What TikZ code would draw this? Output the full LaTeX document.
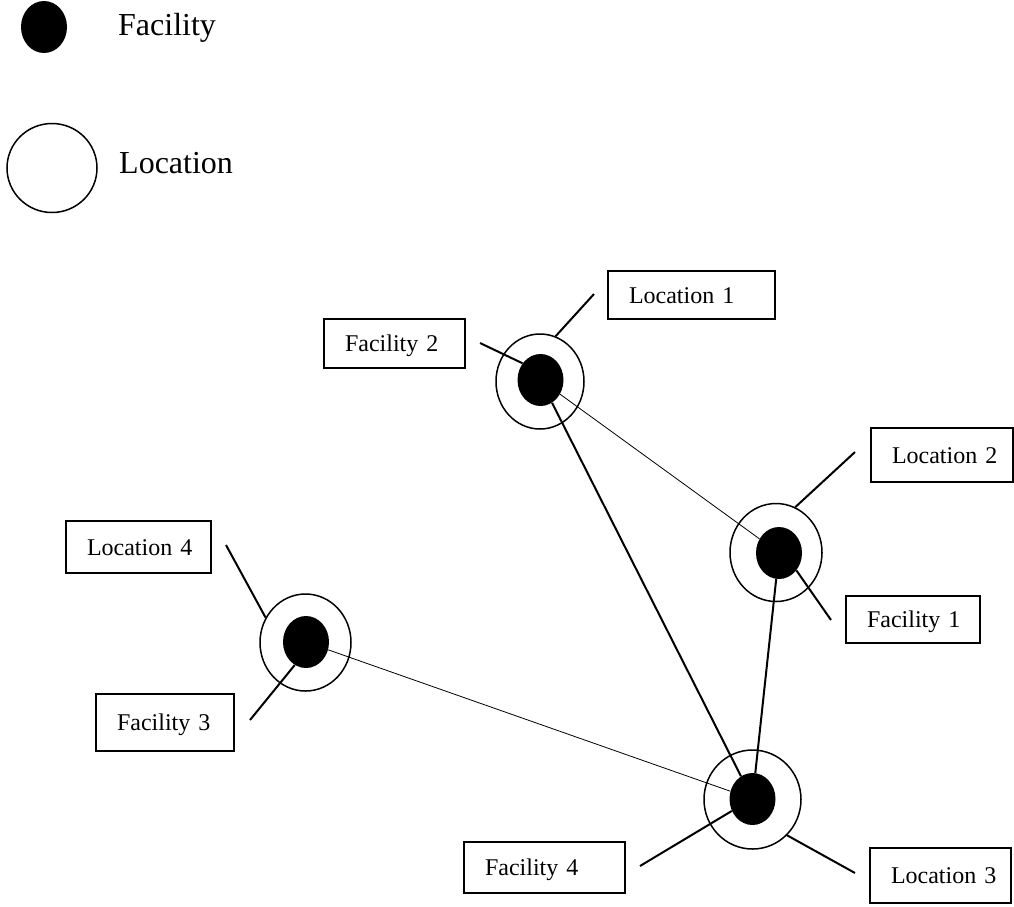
\documentclass[tikz,border=0pt]{standalone}
\usepackage{fontspec}
\setmainfont{Liberation Serif}
\usetikzlibrary{shapes.geometric}
\begin{document}
\begin{tikzpicture}[x=1pt,y=-1pt,
  ring/.style={draw, ellipse, line width=1.5pt, inner sep=0pt},
  dot/.style={fill=black, ellipse, minimum width=46pt, minimum height=52pt, inner sep=0pt},
  tag/.style={draw, rectangle, line width=1.3pt, font=\fontsize{24}{28}\selectfont,
    align=left, inner xsep=21pt, inner ysep=0pt, text height=16pt, text depth=0pt},
  lead/.style={line width=2pt},
  thinlink/.style={line width=0.8pt},
  thicklink/.style={line width=2pt},
  legendtext/.style={font=\fontsize{32}{38}\selectfont, anchor=base west, inner sep=0pt}]

% page
\path[fill=white, use as bounding box] (0,0) rectangle (1014,906);

% legend
\node[dot] (legdot) at (44,27) {};
\node[legendtext] (legf) at (118,35) {Facility};
\node[ring, minimum width=90pt, minimum height=89pt] (legring) at (52,168) {};
\node[legendtext] (legl) at (119,173) {Location};

% locations
\node[ring, minimum width=88pt, minimum height=95pt] (c1) at (540,381.5) {};
\node[ring, minimum width=92pt, minimum height=98pt] (c2) at (776,552.5) {};
\node[ring, minimum width=97pt, minimum height=99pt] (c3) at (752.5,799.5) {};
\node[ring, minimum width=91pt, minimum height=97pt] (c4) at (305.5,642.5) {};

% facilities
\node[dot] (d1) at (540.5,380) {};
\node[dot] (d2) at (779,553) {};
\node[dot] (d3) at (752.5,799) {};
\node[dot] (d4) at (306,642) {};

% links between facilities
\draw[thinlink] (d1) -- (d2);
\draw[thicklink] (d1) -- (d3);
\draw[thicklink] (d2) -- (d3);
\draw[thinlink] (d4) -- (d3);

% labels
\node[tag, text width=125pt, minimum height=48pt] (loc1) at (691.5,295) {Location~1};
\node[tag, text width=99pt, minimum height=49pt] (fac2) at (394.5,343.5) {Facility~2};
\node[tag, text width=100pt, minimum height=54pt] (loc2) at (942,455) {Location~2};
\node[tag, text width=92pt, minimum height=47pt] (fac1) at (913,619.5) {Facility~1};
\node[tag, text width=103pt, minimum height=52pt] (loc4) at (138.5,547) {Location~4};
\node[tag, text width=96pt, minimum height=57pt] (fac3) at (165,722.5) {Facility~3};
\node[tag, text width=119pt, minimum height=51pt] (fac4) at (544.5,867.5) {Facility~4};
\node[tag, text width=99pt, minimum height=55pt] (loc3) at (940.5,875.5) {Location~3};

% leader lines from the labels
\coordinate (p1) at (594,294);
\coordinate (p2) at (480,343);
\coordinate (p3) at (855,452);
\coordinate (p4) at (831,620);
\coordinate (p5) at (226,545);
\coordinate (p6) at (250,720);
\coordinate (p7) at (640,866);
\coordinate (p8) at (855,873);
\draw[lead] (p1) -- (c1.71);
\draw[lead] (p2) -- (d1.137);
\draw[lead] (p3) -- (c2.67);
\draw[lead] (p4) -- (d2.-45);
\draw[lead] (p5) -- (c4.148);
\draw[lead] (p6) -- (d4.244);
\draw[lead] (p7) -- (d3.210);
\draw[lead] (p8) -- (c3.314);
\end{tikzpicture}
\end{document}
